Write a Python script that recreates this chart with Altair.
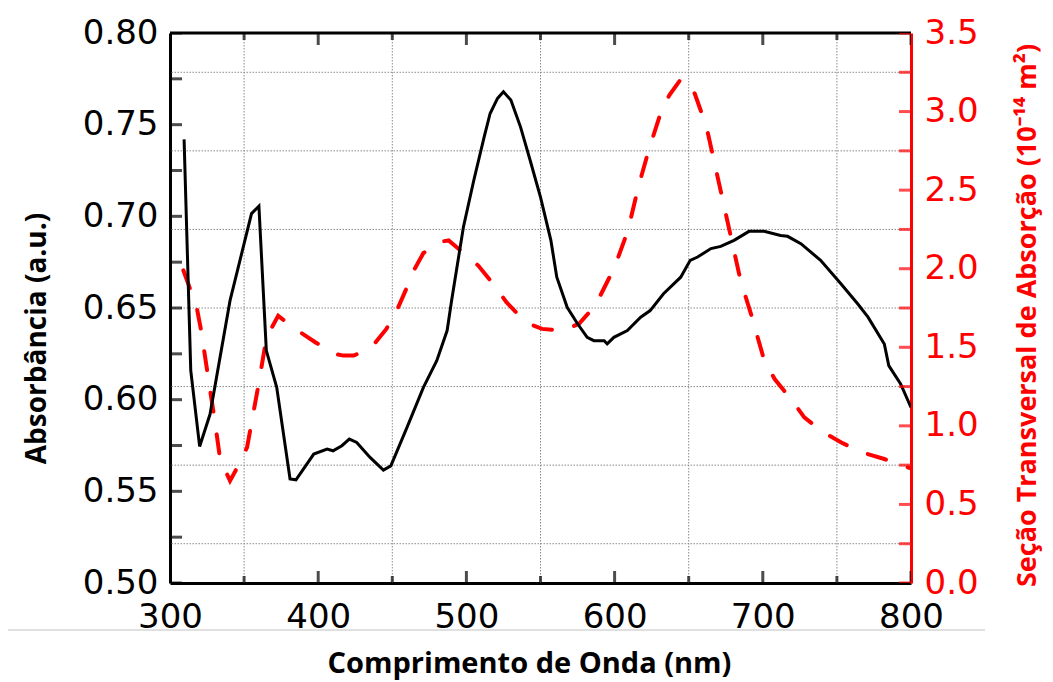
import altair as alt
import pandas as pd

# ---- data ----
nm_abs = [309.5, 314, 320, 327, 340.5, 355, 360, 365, 372, 381, 385, 397, 406, 410, 416, 421,
          426, 435, 444, 449, 460, 471, 480, 487, 490, 498, 505, 512, 516, 521, 525, 530,
          536.5, 543, 550, 557, 561, 568, 575, 581.5, 586, 593, 595, 599.5, 608.6, 617.6,
          624, 633, 644.6, 651, 656, 665, 671.6, 680.6, 690.7, 700.9, 712, 716.7, 725.7,
          739, 752.7, 764, 771, 782, 785, 793, 800]
absorb = [0.742, 0.616, 0.5745, 0.592, 0.654, 0.7015, 0.7055, 0.6268, 0.6067, 0.5568, 0.5563,
          0.5703, 0.573, 0.5721, 0.5749, 0.5785, 0.5767, 0.5685, 0.5616, 0.5639, 0.585,
          0.6067, 0.6213, 0.6377, 0.654, 0.6942, 0.7197, 0.7433, 0.7561, 0.7643, 0.7679,
          0.7634, 0.7488, 0.7306, 0.7105, 0.6869, 0.6668, 0.6504, 0.6414, 0.634, 0.6322,
          0.6322, 0.6304, 0.634, 0.6377, 0.645, 0.6486, 0.6578, 0.6668, 0.676, 0.6778,
          0.6824, 0.6836, 0.6869, 0.6918, 0.6918, 0.6896, 0.6891, 0.6851, 0.676, 0.6632,
          0.6523, 0.645, 0.6304, 0.6186, 0.6086, 0.5958]

nm_cs = [309, 318, 321, 326.6, 330.4, 333.8, 340.5, 346, 352, 359, 364, 367, 373, 386, 398,
         411, 417, 424, 436, 446, 453, 459, 464, 471, 482, 488, 496, 508, 518, 527, 540,
         551, 565, 576, 587, 600, 609, 616, 623, 631, 637, 645, 654, 658, 663, 668, 674,
         680, 685, 692, 701, 708, 719, 728, 741, 753, 767, 782, 794, 800]
cross = [1.99, 1.755, 1.607, 1.256, 1.022, 0.79, 0.65, 0.746, 0.863, 1.224, 1.5, 1.596, 1.70,
         1.607, 1.532, 1.458, 1.447, 1.447, 1.50, 1.617, 1.734, 1.862, 1.98, 2.10, 2.171,
         2.18, 2.116, 2.02, 1.904, 1.787, 1.659, 1.617, 1.607, 1.649, 1.766, 2.01, 2.244,
         2.52, 2.754, 2.988, 3.105, 3.21, 3.116, 3.01, 2.86, 2.648, 2.393, 2.138, 1.925,
         1.713, 1.415, 1.298, 1.171, 1.054, 0.958, 0.894, 0.831, 0.789, 0.746, 0.73]

x_labels = [300, 400, 500, 600, 700, 800]
x_minor = [350, 450, 550, 650, 750]
grid_x = [350, 450, 550, 650, 750]
left_labels = [0.50, 0.55, 0.60, 0.65, 0.70, 0.75, 0.80]
left_ticks = [0.500, 0.525, 0.550, 0.575, 0.600, 0.625, 0.650, 0.675, 0.700, 0.725, 0.750, 0.775, 0.800]
right_labels = [0.0, 0.5, 1.0, 1.5, 2.0, 2.5, 3.0, 3.5]
right_ticks = [0.0, 0.25, 0.5, 0.75, 1.0, 1.25, 1.5, 1.75, 2.0, 2.25, 2.5, 2.75, 3.0, 3.25, 3.5]
grid_y = [0.25, 0.75, 1.25, 1.75, 2.25, 2.75, 3.25]

RED = "#ff0000"
TICK_FONT = "DejaVu Sans"
TITLE_FONT = "Open Sans"

xs = alt.Scale(domain=[300, 800], nice=False, zero=False)
ls = alt.Scale(domain=[0.5, 0.8], nice=False, zero=False)
rs = alt.Scale(domain=[0, 3.5], nice=False, zero=False)

x_axis = alt.Axis(values=x_labels, format="d", ticks=False, tickSize=0, grid=False,
                  domainColor="black", domainWidth=3, labelFont=TICK_FONT, labelFontSize=34,
                  labelColor="black", labelPadding=17, labelFlush=False, labelOverlap=False,
                  title="Comprimento de Onda (nm)", titleFont=TITLE_FONT, titleFontWeight="bold",
                  titleFontSize=29, titleColor="black", titleX=359, titleY=80,
                  titleAlign="center", titleBaseline="middle")

left_axis = alt.Axis(orient="left", values=left_labels, format=".2f", ticks=False, tickSize=0,
                     grid=False, domainColor="black", domainWidth=3, labelFont=TICK_FONT,
                     labelFontSize=34, labelColor="black", labelPadding=12, labelFlush=False,
                     labelOverlap=False, title="Absorbância (a.u.)", titleFont=TITLE_FONT,
                     titleFontWeight="bold", titleFontSize=28, titleColor="black",
                     titleAngle=270, titleX=-133, titleY=305, titleAlign="center",
                     titleBaseline="middle")

right_axis = alt.Axis(orient="right", values=right_labels, format=".1f", ticks=False, tickSize=0,
                      grid=False, domainColor=RED, domainWidth=3, labelFont=TICK_FONT,
                      labelFontSize=34, labelColor=RED, labelPadding=13, labelFlush=False,
                      labelOverlap=False, title="Seção Transversal de Absorção (10⁻¹⁴ m²)",
                      titleFont=TITLE_FONT, titleFontWeight="bold", titleFontSize=27,
                      titleColor=RED, titleAngle=270, titleX=116, titleY=282,
                      titleAlign="center", titleBaseline="middle")

df_abs = pd.DataFrame({"nm": nm_abs, "v": absorb})
df_cs = pd.DataFrame({"nm": nm_cs, "v": cross})


def X(field):
    return alt.X(field, type="quantitative", scale=xs, axis=x_axis)


def XD(val):
    return alt.XDatum(val, type="quantitative", scale=xs, axis=x_axis)


grid_v = alt.Chart(pd.DataFrame({"nm": grid_x})).mark_rule(
    color="#8a8a8a", strokeWidth=1, strokeDash=[1.5, 1.5]).encode(x=X("nm"))
grid_h = alt.Chart(pd.DataFrame({"v": grid_y})).mark_rule(
    color="#8a8a8a", strokeWidth=1, strokeDash=[1.5, 1.5]).encode(
    y=alt.Y("v", type="quantitative", scale=rs, axis=None))

red_line = alt.Chart(df_cs).mark_line(color=RED, strokeWidth=4, strokeDash=[19, 23],
                                      strokeCap="round", clip=True).encode(
    x=X("nm"), y=alt.Y("v", type="quantitative", scale=rs, axis=right_axis))

black_line = alt.Chart(df_abs).mark_line(color="black", strokeWidth=3, clip=True).encode(
    x=X("nm"), y=alt.Y("v", type="quantitative", scale=ls, axis=left_axis))

top_line = alt.Chart(pd.DataFrame({"v": [3.5]})).mark_rule(color="black", strokeWidth=3).encode(
    y=alt.Y("v", type="quantitative", scale=rs, axis=None))

left_t = alt.Chart(pd.DataFrame({"v": left_ticks})).mark_tick(
    orient="horizontal", size=24, thickness=3, color="black", clip=True).encode(
    x=XD(300), y=alt.Y("v", type="quantitative", scale=ls, axis=None))

right_t = alt.Chart(pd.DataFrame({"v": right_ticks})).mark_tick(
    orient="horizontal", size=24, thickness=3, color=RED, clip=True).encode(
    x=XD(800), y=alt.Y("v", type="quantitative", scale=rs, axis=None))


def xticks(vals, size, yval):
    return alt.Chart(pd.DataFrame({"nm": vals})).mark_tick(
        orient="vertical", size=size, thickness=3, color="black", clip=True).encode(
        x=X("nm"), y=alt.YDatum(yval, type="quantitative", scale=rs, axis=None))


sep = alt.Chart(pd.DataFrame({"a": [0]})).mark_rule(color="#d6d6d6", strokeWidth=1.5).encode(
    x=alt.value(-170), x2=alt.value(815), y=alt.value(597))

chart = alt.layer(
    grid_v, grid_h, red_line, black_line, top_line,
    xticks(x_labels, 24, 0), xticks(x_minor, 14, 0),
    xticks(x_labels, 24, 3.5), xticks(x_minor, 14, 3.5),
    left_t, right_t, sep
).resolve_scale(y="independent").properties(
    width=741, height=550,
    autosize=alt.AutoSizeParams(type="none"),
    padding={"left": 162, "top": 25, "right": 134, "bottom": 99},
    background="white"
).configure_view(strokeWidth=0)

chart.save("out.html", embed_options={"renderer": "svg", "actions": False})
